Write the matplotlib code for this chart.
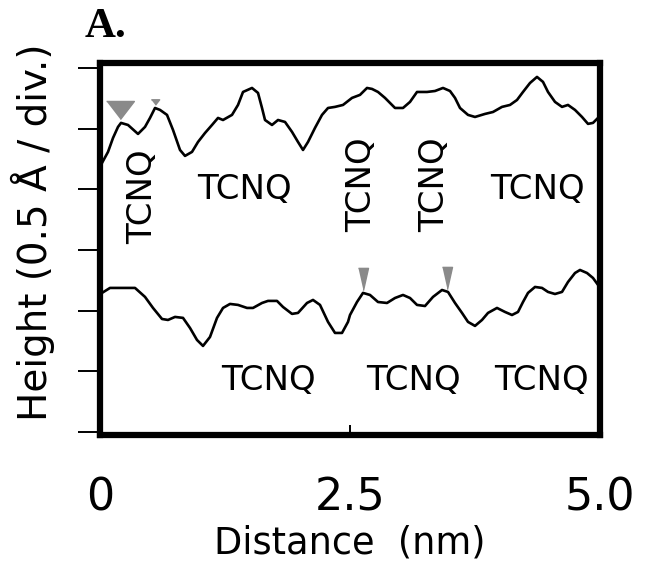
import matplotlib
matplotlib.use("Agg")
import matplotlib.pyplot as plt

# ---- data (distance in nm, height in Angstrom) ----
top_x = [0.02, 0.08, 0.13, 0.18, 0.21, 0.28, 0.38, 0.45, 0.50, 0.55, 0.60, 0.67, 0.73, 0.80,
         0.85, 0.92, 0.98, 1.05, 1.12, 1.18, 1.23, 1.32, 1.38, 1.43, 1.52, 1.58, 1.62, 1.65,
         1.72, 1.78, 1.85, 1.92, 1.98, 2.03, 2.08, 2.15, 2.22, 2.28, 2.35, 2.43, 2.52, 2.60,
         2.67, 2.72, 2.78, 2.85, 2.95, 3.03, 3.10, 3.17, 3.27, 3.35, 3.43, 3.50, 3.55, 3.60,
         3.68, 3.75, 3.85, 3.93, 4.02, 4.10, 4.17, 4.23, 4.30, 4.37, 4.43, 4.48, 4.55, 4.62,
         4.68, 4.75, 4.82, 4.88, 4.93, 4.98]
top_h = [2.217, 2.308, 2.423, 2.514, 2.547, 2.530, 2.456, 2.514, 2.588, 2.670, 2.654, 2.613,
         2.489, 2.324, 2.275, 2.308, 2.390, 2.464, 2.530, 2.588, 2.571, 2.613, 2.695, 2.802,
         2.835, 2.794, 2.670, 2.571, 2.530, 2.571, 2.555, 2.473, 2.390, 2.324, 2.390, 2.506,
         2.613, 2.670, 2.679, 2.695, 2.753, 2.778, 2.835, 2.827, 2.802, 2.753, 2.670, 2.670,
         2.720, 2.802, 2.802, 2.810, 2.835, 2.810, 2.753, 2.670, 2.613, 2.596, 2.621, 2.637,
         2.679, 2.695, 2.736, 2.802, 2.876, 2.926, 2.885, 2.802, 2.720, 2.679, 2.695, 2.654,
         2.596, 2.539, 2.547, 2.588]

bot_x = [0.02, 0.10, 0.22, 0.35, 0.45, 0.53, 0.62, 0.68, 0.75, 0.83, 0.90, 0.97, 1.03, 1.10,
         1.17, 1.23, 1.30, 1.38, 1.47, 1.53, 1.62, 1.68, 1.77, 1.83, 1.92, 1.98, 2.07, 2.13,
         2.20, 2.28, 2.35, 2.42, 2.48, 2.50, 2.57, 2.63, 2.70, 2.78, 2.87, 2.95, 3.03, 3.10,
         3.17, 3.25, 3.33, 3.42, 3.48, 3.55, 3.62, 3.68, 3.75, 3.82, 3.88, 3.97, 4.05, 4.12,
         4.18, 4.23, 4.28, 4.35, 4.42, 4.48, 4.55, 4.62, 4.68, 4.75, 4.80, 4.87, 4.93, 4.98]
bot_h = [1.146, 1.187, 1.187, 1.187, 1.113, 1.022, 0.931, 0.923, 0.948, 0.940, 0.857, 0.758,
         0.709, 0.783, 0.940, 1.022, 1.055, 1.047, 1.022, 1.022, 1.063, 1.080, 1.080, 1.030,
         0.973, 0.981, 1.063, 1.088, 1.047, 0.907, 0.816, 0.816, 0.907, 0.964, 1.071, 1.146,
         1.129, 1.071, 1.063, 1.104, 1.129, 1.104, 1.047, 1.038, 1.113, 1.170, 1.154, 1.063,
         0.981, 0.907, 0.874, 0.923, 0.981, 1.022, 0.989, 0.964, 0.989, 1.071, 1.146, 1.195,
         1.187, 1.154, 1.137, 1.154, 1.236, 1.310, 1.335, 1.310, 1.269, 1.212]

# cursor markers (x, height, size)
marker_x = [0.20, 0.55, 2.63, 3.47]
marker_h = [2.655, 2.720, 1.262, 1.272]
marker_size = [20, 6, 16, 16]
marker_narrow = [False, False, True, True]

# TCNQ labels
label_text = ["TCNQ"] * 8
label_x = [0.43, 1.44, 2.62, 3.35, 4.37, 1.68, 3.13, 4.41]
label_h = [1.937, 1.995, 2.036, 2.036, 1.995, 0.420, 0.420, 0.420]
label_rot = [90, 0, 90, 90, 0, 0, 0, 0]

x_ticks = [0, 2.5, 5.0]
x_tick_labels = ["0", "2.5", "5.0"]
y_ticks = [0, 0.5, 1.0, 1.5, 2.0, 2.5, 3.0]

# ---- figure ----
fig = plt.figure(figsize=(6.49, 5.75), dpi=100)
ax = fig.add_axes([0.1541, 0.2435, 0.7704, 0.6470])

ax.plot(top_x, top_h, color="black", lw=1.9)
ax.plot(bot_x, bot_h, color="black", lw=1.9)

wide_tri = [(-1.0, 0.65), (1.0, 0.65), (0.0, -0.65)]
narrow_tri = [(-0.45, 1.0), (0.45, 1.0), (0.0, -1.0)]
for mx, mh, ms, nar in zip(marker_x, marker_h, marker_size, marker_narrow):
    ax.plot([mx], [mh], marker=narrow_tri if nar else wide_tri, markersize=ms,
            color="#8a8a8a", markeredgecolor="#8a8a8a", linestyle="none")

for t, lx, lh, r in zip(label_text, label_x, label_h, label_rot):
    ax.text(lx, lh, t, rotation=r, ha="center", va="center", fontsize=24.5,
            family="DejaVu Sans", color="black")

ax.set_xlim(0, 5.0)
ax.set_ylim(-0.025, 3.041)

for s in ax.spines.values():
    s.set_linewidth(4.5)

ax.set_xticks(x_ticks)
ax.set_xticklabels(x_tick_labels, fontsize=32, family="DejaVu Sans")
ax.tick_params(axis="x", direction="in", length=7, width=1.4, pad=30)
ax.set_yticks(y_ticks)
ax.set_yticklabels([])
ax.tick_params(axis="y", direction="out", length=16, width=1.4)

fig.text(350 / 649, 1 - 543 / 575, "Distance  (nm)", ha="center", va="center",
         fontsize=26.5, family="DejaVu Sans")
fig.text(33 / 649, 1 - 232 / 575, "Height (0.5 Å / div.)", ha="center", va="center",
         rotation=90, fontsize=28, family="DejaVu Sans")
fig.text(85 / 649, 1 - 37 / 575, "A.", ha="left", va="baseline", fontsize=31,
         family="Liberation Serif", fontweight="bold")

fig.savefig("out.png", dpi=100)
